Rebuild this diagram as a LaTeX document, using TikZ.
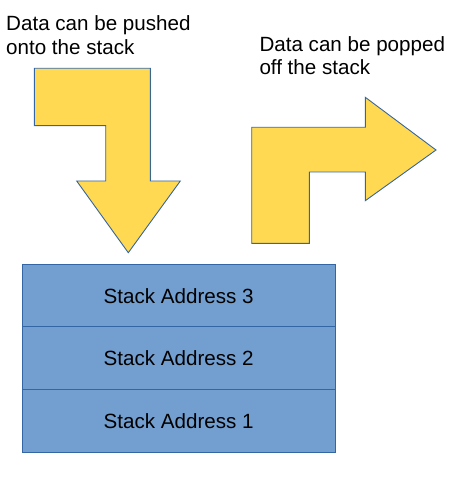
\documentclass[tikz,border=0pt]{standalone}
\usepackage{fontspec}
\setmainfont{Liberation Sans}
\definecolor{arrowfill}{HTML}{FFD952}
\definecolor{lineblue}{HTML}{3465A4}
\definecolor{boxfill}{HTML}{729FCF}
\begin{document}
\begin{tikzpicture}[x=1pt,y=-1pt,
  lbl/.style={anchor=base west,inner sep=0pt,font=\fontsize{20.6}{24}\selectfont},
  bigarrow/.style={fill=arrowfill,draw=lineblue,line width=0.9pt,line join=miter},
  stackbox/.style={draw=lineblue,fill=boxfill,line width=0.9pt,minimum width=313.3pt,minimum height=62.7pt,inner sep=0pt,font=\fontsize{20.6}{24}\selectfont}]
\useasboundingbox (0,0) rectangle (457,478);
% push arrow
\draw[bigarrow] (34.3,68.3) -- (150.3,68.3) -- (150.3,181) -- (180.3,181) -- (128.3,252.7)
  -- (76.7,181) -- (105.7,181) -- (105.7,125.7) -- (34.3,125.7) -- cycle;
% pop arrow
\draw[bigarrow] (251.7,243.3) -- (251.7,127.3) -- (365.3,127.3) -- (365.3,97.3) -- (436,150)
  -- (365.3,200.7) -- (365.3,172) -- (309.3,172) -- (309.3,243.3) -- cycle;
% labels
\node[lbl] (push1) at (6,31) {Data can be pushed};
\node[lbl] (push2) at (6,54.3) {onto the stack};
\node[lbl] (pop1) at (259.3,51.7) {Data can be popped};
\node[lbl] (pop2) at (259.3,75) {off the stack};
% stack
\node[stackbox] (s3) at (178.7,295.7) {Stack Address 3};
\node[stackbox] (s2) at (178.7,358.2) {Stack Address 2};
\node[stackbox] (s1) at (178.7,420.8) {Stack Address 1};
\end{tikzpicture}
\end{document}
